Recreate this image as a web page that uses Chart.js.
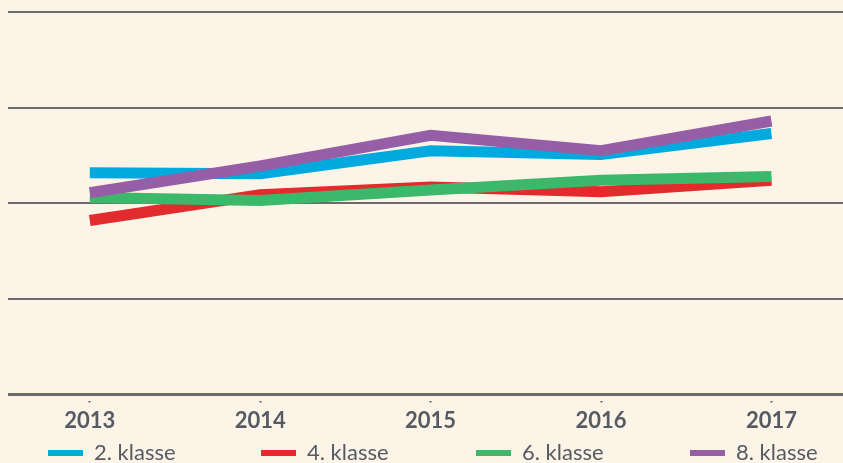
<!DOCTYPE html>
<html lang="no">
<head>
<meta charset="UTF-8">
<title>Klasse 2013-2017</title>
<script src="https://cdn.jsdelivr.net/npm/chart.js"></script>
<style>
  html, body { margin: 0; padding: 0; background: #fdf4e8; }
  #wrap { width: 843px; height: 463px; position: relative; }
</style>
</head>
<body>
<div id="wrap"><canvas id="chart"></canvas></div>
<script>
  // data (arbitrary units, one gridline = 10)
  var years = [2013, 2014, 2015, 2016, 2017];
  var klasse2 = [23.2, 23.1, 25.5, 25.1, 27.3];
  var klasse4 = [18.2, 20.9, 21.7, 21.2, 22.4];
  var klasse6 = [20.6, 20.3, 21.4, 22.4, 22.8];
  var klasse8 = [21.1, 23.9, 27.1, 25.5, 28.6];
  var seriesNames = ['2. klasse', '4. klasse', '6. klasse', '8. klasse'];
  var seriesColors = ['#00aade', '#e22b2c', '#3cb86a', '#965ea7'];

  var textColor = '#565a63';

  function points(vals) {
    return vals.map(function (v, i) { return { x: years[i], y: v }; });
  }

  var allSeries = [klasse2, klasse4, klasse6, klasse8];
  var datasets = allSeries.map(function (vals, i) {
    return {
      label: seriesNames[i],
      data: points(vals),
      borderColor: seriesColors[i],
      backgroundColor: seriesColors[i],
      borderWidth: 11,
      borderCapStyle: 'butt',
      borderJoinStyle: 'miter',
      pointRadius: 0,
      tension: 0,
      order: 4 - i   // later series on top
    };
  });

  // legend drawn by hand so the wide spacing fits the canvas
  var legendX = [48, 261, 476, 690];
  var bottomLegend = {
    id: 'bottomLegend',
    afterDraw: function (chart) {
      var ctx = chart.ctx;
      ctx.save();
      ctx.font = '22px Lato';
      ctx.textBaseline = 'middle';
      chart.data.datasets.forEach(function (ds, i) {
        var x = legendX[i];
        var y = 453;
        ctx.fillStyle = ds.borderColor;
        ctx.fillRect(x, y - 3, 35, 6);
        ctx.fillStyle = textColor;
        ctx.fillText(ds.label, x + 46, y);
      });
      ctx.restore();
    }
  };

  new Chart(document.getElementById('chart'), {
    type: 'line',
    data: { datasets: datasets },
    plugins: [bottomLegend],
    options: {
      responsive: true,
      maintainAspectRatio: false,
      animation: false,
      layout: { padding: { left: 8, right: 0, top: 12, bottom: 24 } },
      plugins: {
        legend: { display: false },
        tooltip: { enabled: false }
      },
      scales: {
        x: {
          type: 'linear',
          min: 2012.52,
          max: 2017.42,
          afterBuildTicks: function (axis) {
            axis.ticks = years.map(function (y) { return { value: y }; });
          },
          ticks: {
            color: textColor,
            font: { family: 'Lato', size: 22, weight: 'bold' },
            padding: 5,
            maxRotation: 0,
            callback: function (v) { return String(v); }
          },
          grid: {
            display: true,
            drawOnChartArea: false,
            drawTicks: true,
            tickLength: 8,
            tickColor: '#555a60',
            tickWidth: 2,
            tickBorderDash: [0, 6, 2, 20]
          },
          border: { display: false }
        },
        y: {
          min: 0,
          max: 40,
          ticks: { display: false, stepSize: 10 },
          grid: {
            color: '#6b6b6b',
            lineWidth: function (c) { return c.tick && c.tick.value === 0 ? 3 : 2; },
            drawTicks: false
          },
          border: { display: false }
        }
      }
    }
  });
</script>
</body>
</html>
